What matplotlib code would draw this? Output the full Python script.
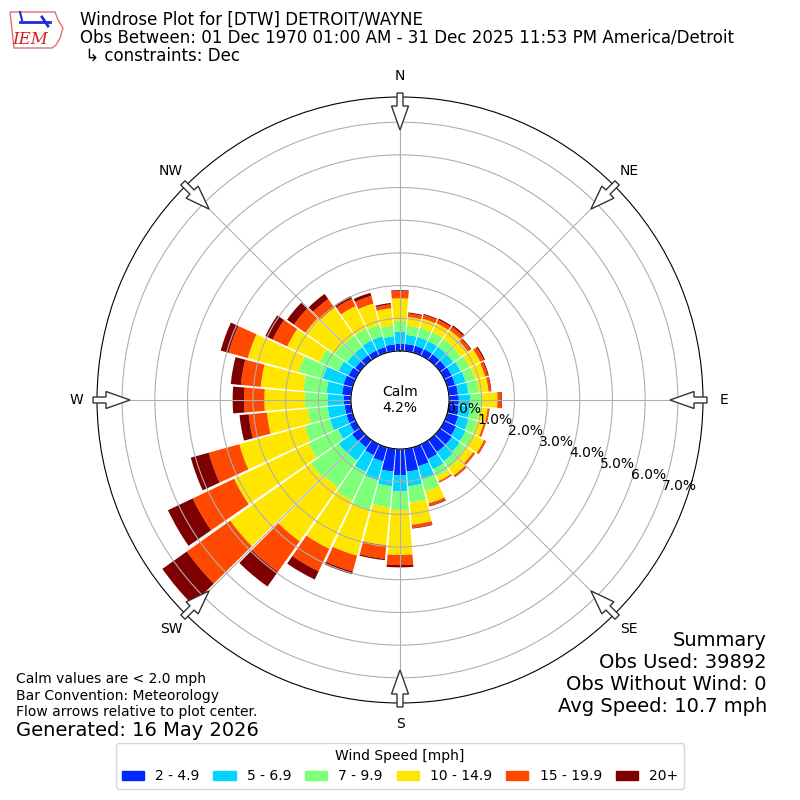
import numpy as np
import matplotlib
matplotlib.use("Agg")
import matplotlib.pyplot as plt
from matplotlib.patches import FancyArrow, Patch, Polygon

# wind direction bins (deg, meteorological) and frequency (%) per speed bin
directions = np.arange(0, 360, 10)
spd_2_5 = [0.23, 0.22, 0.22, 0.22, 0.22, 0.22, 0.25, 0.25, 0.28, 0.30, 0.30, 0.35,
           0.40, 0.45, 0.45, 0.50, 0.60, 0.70, 0.80, 0.70, 0.45, 0.37, 0.28, 0.30,
           0.20, 0.20, 0.20, 0.23, 0.28, 0.29, 0.24, 0.18, 0.18, 0.18, 0.18, 0.21]
spd_5_7 = [0.36, 0.28, 0.28, 0.28, 0.28, 0.28, 0.30, 0.33, 0.32, 0.35, 0.35, 0.33,
           0.32, 0.30, 0.35, 0.35, 0.40, 0.45, 0.50, 0.45, 0.60, 0.57, 0.50, 0.50,
           0.40, 0.52, 0.52, 0.49, 0.48, 0.66, 0.34, 0.31, 0.31, 0.34, 0.34, 0.25]
spd_7_10 = [0.33, 0.28, 0.30, 0.30, 0.30, 0.28, 0.30, 0.30, 0.32, 0.35, 0.30, 0.27,
            0.26, 0.23, 0.25, 0.25, 0.40, 0.50, 0.57, 0.65, 0.95, 0.96, 1.00, 1.05,
            1.00, 0.80, 0.61, 0.69, 0.71, 0.76, 0.64, 0.46, 0.43, 0.40, 0.37, 0.32]
spd_10_15 = [0.69, 0.27, 0.28, 0.30, 0.32, 0.27, 0.37, 0.32, 0.30, 0.48, 0.24, 0.21,
             0.37, 0.27, 0.28, 0.15, 0.38, 0.68, 1.37, 1.16, 1.44, 1.64, 2.02, 3.02,
             2.52, 2.08, 1.26, 1.24, 1.31, 1.62, 1.10, 1.10, 1.04, 0.76, 0.67, 0.54]
spd_15_20 = [0.22, 0.11, 0.12, 0.12, 0.13, 0.10, 0.12, 0.09, 0.07, 0.12, 0.05, 0.05,
             0.06, 0.06, 0.06, 0.04, 0.08, 0.10, 0.31, 0.42, 0.50, 0.76, 1.15, 1.63,
             1.40, 0.97, 0.56, 0.62, 0.61, 0.61, 0.49, 0.43, 0.33, 0.25, 0.24, 0.12]
spd_20p = [0.03, 0.03, 0.03, 0.04, 0.05, 0.03, 0.04, 0.03, 0.02, 0.02, 0.01, 0.01,
           0.01, 0.01, 0.01, 0.01, 0.02, 0.02, 0.07, 0.04, 0.09, 0.28, 0.55, 0.92,
           0.84, 0.57, 0.28, 0.35, 0.31, 0.25, 0.25, 0.26, 0.19, 0.09, 0.10, 0.04]

bin_labels = ["2 - 4.9", "5 - 6.9", "7 - 9.9", "10 - 14.9", "15 - 19.9", "20+"]
bin_colors = ["#0028ff", "#00d4ff", "#7cff79", "#ffe600", "#ff4800", "#7f0000"]
calm_pct = 4.2
rticks = [0, 1, 2, 3, 4, 5, 6, 7]
compass = ["N", "NE", "E", "SE", "S", "SW", "W", "NW"]

fig = plt.figure(figsize=(8, 8), dpi=100)

ax = fig.add_axes([0.12125, 0.12125, 0.7575, 0.7575], projection="polar")
ax.set_theta_zero_location("N")
ax.set_theta_direction(-1)
ax.set_rorigin(-1.5)
ax.set_ylim(0, 7.77)

theta = np.deg2rad(directions)
width = np.deg2rad(9.2)
bottom = np.zeros(len(directions))
for vals, col in zip([spd_2_5, spd_5_7, spd_7_10, spd_10_15, spd_15_20, spd_20p], bin_colors):
    vals = np.array(vals)
    ax.bar(theta, vals, width=width, bottom=bottom, color=col, linewidth=0, zorder=1)
    bottom = bottom + vals

ax.set_xticks(np.deg2rad(np.arange(0, 360, 45)))
ax.set_xticklabels([])
ax.set_rgrids(rticks, labels=["%.1f%%" % t for t in rticks], fontsize=10)
ax.set_rlabel_position(109.5)
ax.grid(True, color="#b0b0b0", lw=0.8)

ax.text(0, -1.5, "Calm\n%.1f%%" % calm_pct, ha="center", va="center", fontsize=10)

# overlay in pixel coords for arrows, labels, logo
ov = fig.add_axes([0, 0, 1, 1], zorder=5)
ov.set_xlim(0, 800)
ov.set_ylim(800, 0)
ov.axis("off")
ov.patch.set_alpha(0)

for i, lab in enumerate(compass):
    a = np.deg2rad(i * 45)
    s, c = np.sin(a), np.cos(a)
    ov.text(400 + 324 * s, 400 - 324 * c, lab, ha="center", va="center", fontsize=10)
    ov.add_patch(FancyArrow(400 + 307 * s, 400 - 307 * c, -37 * s, 37 * c, width=6,
                            head_width=17, head_length=24, length_includes_head=True,
                            fc="white", ec="#333333", lw=1))

# IEM logo (rough)
iowa = [(10, 12), (55, 12), (58, 20), (63, 28), (60, 38), (56, 45), (52, 48), (14, 48), (12, 30)]
ov.add_patch(Polygon(iowa, closed=True, fc="white", ec="#e07070", lw=1))
ov.plot([20, 50], [22, 22], color="#1a2ed8", lw=2)
ov.plot([20, 22], [12, 20], color="#1a2ed8", lw=1.5)
ov.plot([42, 48], [17, 26], color="#1a2ed8", lw=2)
ov.text(30, 39, "IEM", color="#d42020", fontsize=12, ha="center", va="center",
        family="DejaVu Serif", style="italic")

fig.text(80 / 800, 1 - 20 / 800, "Windrose Plot for [DTW] DETROIT/WAYNE", fontsize=12, va="center")
fig.text(80 / 800, 1 - 38 / 800,
         "Obs Between: 01 Dec 1970 01:00 AM - 31 Dec 2025 11:53 PM America/Detroit",
         fontsize=12, va="center")
fig.text(80 / 800, 1 - 56 / 800, " \u21b3 constraints: Dec", fontsize=12, va="center")

fig.text(16 / 800, 1 - 679 / 800, "Calm values are < 2.0 mph", fontsize=10, va="center")
fig.text(16 / 800, 1 - 696 / 800, "Bar Convention: Meteorology", fontsize=10, va="center")
fig.text(16 / 800, 1 - 712 / 800, "Flow arrows relative to plot center.", fontsize=10, va="center")
fig.text(16 / 800, 1 - 730 / 800, "Generated: 16 May 2026", fontsize=14, va="center")

summary = ["Summary", "Obs Used: 39892", "Obs Without Wind: 0", "Avg Speed: 10.7 mph"]
for i, line in enumerate(summary):
    fig.text(767 / 800, 1 - (640 + 22 * i) / 800, line, fontsize=14, ha="right", va="center")

handles = [Patch(color=c, label=l) for c, l in zip(bin_colors, bin_labels)]
fig.legend(handles=handles, loc="center", bbox_to_anchor=(0.5, 1 - 766 / 800), ncol=6,
           title="Wind Speed [mph]", fontsize=10, title_fontsize=10,
           handlelength=1.6, columnspacing=1.0)

fig.savefig("out.png", dpi=100)
